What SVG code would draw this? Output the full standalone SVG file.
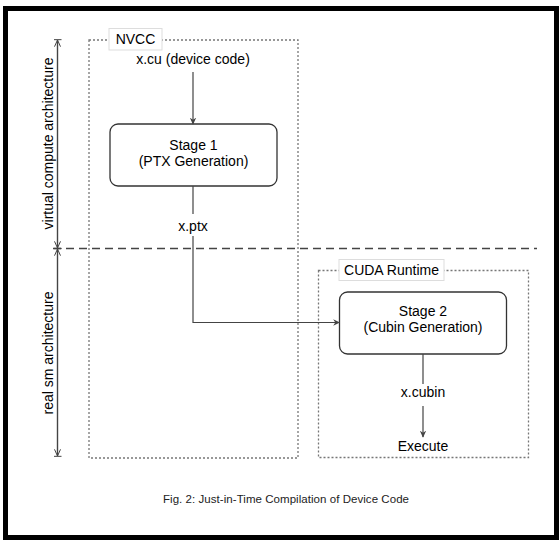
<svg xmlns="http://www.w3.org/2000/svg" width="559" height="540" viewBox="0 0 559 540">
  <defs>
    <marker id="arr" viewBox="0 0 10 10" refX="9" refY="5" markerWidth="7" markerHeight="7" markerUnits="userSpaceOnUse" orient="auto">
      <path d="M0,0.5 L10,5 L0,9.5 L3,5 Z" fill="#444"/>
    </marker>
    <marker id="dim" viewBox="0 0 12 12" refX="11" refY="6" markerWidth="8" markerHeight="8" markerUnits="userSpaceOnUse" orient="auto">
      <path d="M1,1.5 L11,6 L1,10.5" fill="none" stroke="#444" stroke-width="1.5"/>
      <path d="M11.5,0 L11.5,12" stroke="#444" stroke-width="1.5"/>
    </marker>
  </defs>
  <style>
    text { font-family: "Liberation Sans", Arial, sans-serif; font-size: 14px; fill: #000; }
    .cap { font-size: 11.5px; fill: #222; }
    .grp { fill: none; stroke: #777; stroke-width: 1.3; stroke-dasharray: 2 2; }
    .lbl { fill: #fff; stroke: #ddd; stroke-width: 1; }
    .stage { fill: #fff; stroke: #333; stroke-width: 1.3; }
    .line { fill: none; stroke: #444; stroke-width: 1.2; }
  </style>
  <rect x="0" y="0" width="559" height="540" fill="#fff"/>
  <rect id="frame" x="5.5" y="8.5" width="551" height="529" fill="#fff" stroke="#000" stroke-width="5"/>

  <g id="nvcc">
    <rect class="grp" x="89" y="40" width="209" height="418"/>
    <rect class="lbl" x="109" y="28.5" width="53" height="21.5"/>
    <text x="135.5" y="44" text-anchor="middle">NVCC</text>
  </g>
  <g id="cuda-runtime">
    <rect class="grp" x="318.5" y="270.5" width="210" height="187"/>
    <rect class="lbl" x="339" y="259.5" width="105" height="21"/>
    <text x="391.5" y="275" text-anchor="middle">CUDA Runtime</text>
  </g>

  <g id="divider">
    <line x1="53" y1="248.5" x2="537" y2="248.5" stroke="#444" stroke-width="1.3" stroke-dasharray="8 5"/>
  </g>

  <g id="dimensions">
    <line class="line" x1="57.5" y1="246" x2="57.5" y2="40" marker-end="url(#dim)"/>
    <line class="line" x1="57.5" y1="42" x2="57.5" y2="248" marker-end="url(#dim)"/>
    <line class="line" x1="57.5" y1="455" x2="57.5" y2="249" marker-end="url(#dim)"/>
    <line class="line" x1="57.5" y1="251" x2="57.5" y2="456" marker-end="url(#dim)"/>
    <text transform="translate(52.5,143.5) rotate(-90)" text-anchor="middle">virtual compute architecture</text>
    <text transform="translate(52.5,353) rotate(-90)" text-anchor="middle">real sm architecture</text>
  </g>

  <g id="xcu">
    <text x="193" y="64" text-anchor="middle">x.cu (device code)</text>
  </g>
  <g id="stage1">
    <rect class="stage" x="110" y="124" width="167" height="62" rx="8"/>
    <text x="193.5" y="150" text-anchor="middle">Stage 1</text>
    <text x="193.5" y="166" text-anchor="middle">(PTX Generation)</text>
  </g>
  <g id="xptx">
    <text x="193" y="231" text-anchor="middle">x.ptx</text>
  </g>
  <g id="stage2">
    <rect class="stage" x="339.5" y="292" width="167" height="62" rx="8"/>
    <text x="423" y="315.5" text-anchor="middle">Stage 2</text>
    <text x="423" y="331.5" text-anchor="middle">(Cubin Generation)</text>
  </g>
  <g id="xcubin">
    <text x="423" y="397" text-anchor="middle">x.cubin</text>
  </g>
  <g id="execute">
    <text x="423" y="451" text-anchor="middle">Execute</text>
  </g>

  <g id="connectors">
    <line class="line" x1="193" y1="72" x2="193" y2="124" marker-end="url(#arr)"/>
    <line class="line" x1="193" y1="186" x2="193" y2="214"/>
    <polyline class="line" points="193,236 193,322.5 339.5,322.5" marker-end="url(#arr)"/>
    <line class="line" x1="423" y1="354" x2="423" y2="384"/>
    <line class="line" x1="423" y1="406" x2="423" y2="437" marker-end="url(#arr)"/>
  </g>

  <g id="caption">
    <text class="cap" x="163" y="503" textLength="246" lengthAdjust="spacing">Fig. 2: Just-in-Time Compilation of Device Code</text>
  </g>
</svg>
